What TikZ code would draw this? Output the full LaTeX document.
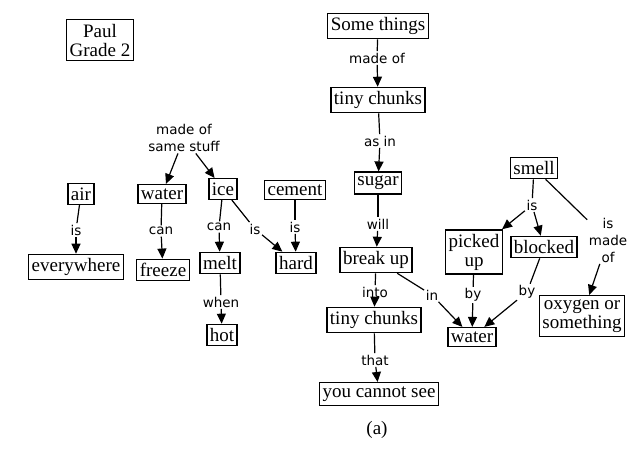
\documentclass[tikz,border=0pt]{standalone}
\usepackage{fontspec}
\setmainfont{Liberation Serif}
\newfontfamily\linkfont{DejaVu Sans}
\usetikzlibrary{arrows.meta}

\begin{document}
\begin{tikzpicture}[x=1pt, y=-1pt,
	concept/.style={draw, line width=1.3pt, inner xsep=3pt, inner ysep=4pt, align=center,
		font=\fontsize{19}{19}\selectfont},
	link/.style={inner sep=1.5pt, align=center, font=\linkfont\fontsize{13.5}{17}\selectfont},
	tie/.style={line width=1.2pt},
	tip/.style={-{Triangle[width=9pt,length=10pt]}, line width=1.2pt}]
	
	\useasboundingbox (0, 0) rectangle (628, 448);
	
	% boxes
	\node [concept] (paul) at (100, 40) {Paul\\Grade 2};
	\node [concept] (some) at (378, 26) {Some things};
	\node [concept] (tiny1) at (378, 100) {tiny chunks};
	\node [concept] (sugar) at (378, 183) {sugar};
	\node [concept] (breakup) at (376, 260) {break up};
	\node [concept] (tiny2) at (374, 320) {tiny chunks};
	\node [concept] (cannot) at (379, 394) {you cannot see};
	\node [concept] (air) at (81, 194) {air};
	\node [concept] (everywhere) at (76, 267) {everywhere};
	\node [concept] (water1) at (162, 194) {water};
	\node [concept] (freeze) at (163, 270) {freeze};
	\node [concept] (ice) at (223, 189) {ice};
	\node [concept] (melt) at (220, 263) {melt};
	\node [concept] (hot) at (222, 335) {hot};
	\node [concept] (cement) at (295, 190) {cement};
	\node [concept] (hard) at (296, 263) {hard};
	\node [concept] (smell) at (534, 168) {smell};
	\node [concept] (picked) at (474, 252) {picked\\up};
	\node [concept] (blocked) at (544, 247) {blocked};
	\node [concept] (water2) at (472, 337) {water};
	\node [concept] (oxygen) at (582, 316) {oxygen or\\something};
	
	% linking words
	\node [link] (madeof) at (377, 58) {made of};
	\node [link] (asin) at (380, 141) {as in};
	\node [link] (will) at (378, 224) {will};
	\node [link] (into) at (375, 292) {into};
	\node [link] (that) at (375, 360) {that};
	\node [link] (in) at (432, 295) {in};
	\node [link] (samestuff) at (184, 138) {made of\\same stuff};
	\node [link] (is1) at (76, 230) {is};
	\node [link] (can1) at (161, 231) {can};
	\node [link] (can2) at (219, 227) {can};
	\node [link] (when) at (221, 302) {when};
	\node [link] (is2) at (255, 229) {is};
	\node [link] (is3) at (295, 227) {is};
	\node [link] (is4) at (532, 205) {is};
	\node [link] (ismade) at (608, 240) {is\\made\\of};
	\node [link] (by1) at (473, 295) {by};
	\node [link] (by2) at (527, 292) {by};
	
	\node (caption) at (377, 430) {\fontsize{19}{19}\selectfont (a)};
	
	% connectors
	\draw [tie] (some) -- (madeof);
	\draw [tip] (madeof) -- (tiny1);
	\draw [tie] (tiny1) -- (asin);
	\draw [tip] (asin) -- (sugar);
	\draw [tie] (sugar) -- (will);
	\draw [tip] (will) -- (breakup);
	\draw [tie] (breakup) -- (into);
	\draw [tip] (into) -- (tiny2);
	\draw [tie] (tiny2) -- (that);
	\draw [tip] (that) -- (cannot);
	\draw [tie] (breakup) -- (in);
	\draw [tip] (in) -- (water2);
	
	\draw [tip] (samestuff) -- (water1);
	\draw [tip] (samestuff) -- (ice);
	\draw [tie] (air) -- (is1);
	\draw [tip] (is1) -- (everywhere);
	\draw [tie] (water1) -- (can1);
	\draw [tip] (can1) -- (freeze);
	\draw [tie] (ice) -- (can2);
	\draw [tip] (can2) -- (melt);
	\draw [tie] (melt) -- (when);
	\draw [tip] (when) -- (hot);
	\draw [tie] (ice) -- (is2);
	\draw [tip] (is2) -- (hard);
	\draw [tie] (cement) -- (is3);
	\draw [tip] (is3) -- (hard);
	
	\draw [tie] (smell) -- (is4);
	\draw [tip] (is4) -- (picked);
	\draw [tip] (is4) -- (blocked);
	\draw [tie] (smell) -- (ismade);
	\draw [tip] (ismade) -- (oxygen);
	\draw [tie] (picked) -- (by1);
	\draw [tip] (by1) -- (water2);
	\draw [tie] (blocked) -- (by2);
	\draw [tip] (by2) -- (water2);
	
\end{tikzpicture}
\end{document}
